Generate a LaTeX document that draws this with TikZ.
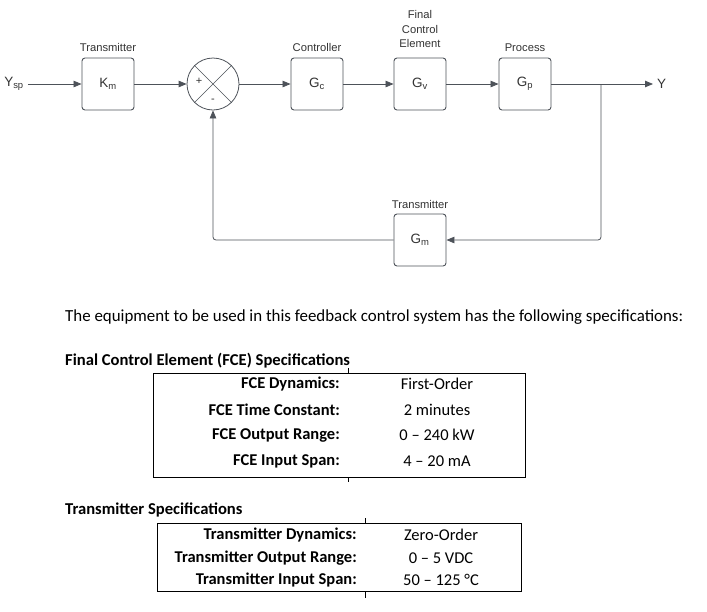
\documentclass[tikz,border=0pt]{standalone}
\usepackage{fontspec}
\setmainfont{Carlito}
\newfontfamily\arial{Liberation Sans}
\usetikzlibrary{arrows.meta}
\definecolor{ln}{HTML}{4D5259}
\definecolor{tx}{HTML}{333333}
\begin{document}
\begin{tikzpicture}[x=1pt,y=-1pt,
  blk/.style={draw=ln, line width=0.9pt, rounded corners=3pt, minimum width=52pt, minimum height=52pt, inner sep=0pt, font=\arial\fontsize{13.5}{15}\selectfont, text=tx},
  lbl/.style={font=\arial\fontsize{11.2}{14.3}\selectfont, text=tx, align=center, inner sep=0pt},
  arr/.style={draw=ln, line width=0.8pt, -{Triangle[length=8pt,width=6.5pt]}},
  body/.style={font=\fontsize{16.9}{19}\selectfont, inner sep=0pt},
  head/.style={font=\bfseries\fontsize{16.6}{19}\selectfont, inner sep=0pt, anchor=west},
  key/.style={font=\bfseries\fontsize{16.5}{19}\selectfont, inner sep=0pt, anchor=east},
  val/.style={font=\fontsize{16.5}{19}\selectfont, inner sep=0pt},
  frame/.style={draw=black, line width=0.8pt}
]
\useasboundingbox (0,0) rectangle (707,611);

% ---- block diagram ----
\node[lbl, font=\arial\fontsize{13.5}{15}\selectfont] (ysp) at (14,84) {Y\textsubscript{sp}};
\node[blk] (km) at (108,84) {K\textsubscript{m}};
\node[lbl] (lkm) at (108,47) {Transmitter};
\node[draw=ln, line width=0.8pt, circle, minimum size=52pt, inner sep=0pt] (sum) at (213,84) {};
\draw[ln, line width=0.6pt] (sum.north west) -- (sum.south east) (sum.north east) -- (sum.south west);
\node[lbl, font=\arial\fontsize{11}{12}\selectfont] (plus) at (199,81) {+};
\node[lbl, font=\arial\fontsize{11}{12}\selectfont] (minus) at (213,101) {-};
\node[blk] (gc) at (317,84) {G\textsubscript{c}};
\node[lbl] (lgc) at (317,47) {Controller};
\node[blk] (gv) at (420,84) {G\textsubscript{v}};
\node[lbl] (lgv) at (420,29) {Final\\Control\\Element};
\node[blk] (gp) at (525,84) {G\textsubscript{p}};
\node[lbl] (lgp) at (525,48) {Process};
\coordinate (br) at (601,84);
\node[lbl, font=\arial\fontsize{13.5}{15}\selectfont, anchor=west] (y) at (657,84) {Y};
\node[blk] (gm) at (420,240) {G\textsubscript{m}};
\node[lbl] (lgm) at (420,204) {Transmitter};

\draw[arr] (ysp.east) ++(4,0) coordinate (ys) (ys) -- (km.west);
\draw[arr] (km.east) -- (sum.west);
\draw[arr] (sum.east) -- (gc.west);
\draw[arr] (gc.east) -- (gv.west);
\draw[arr] (gv.east) -- (gp.west);
\draw[arr] (gp.east) -- ([xshift=-4pt]y.west);
\draw[arr, rounded corners=3pt] (br) |- (gm.east);
\draw[arr, rounded corners=3pt] (gm.west) -| (sum.south);

% ---- text ----
\node[body, anchor=west] (intro) at (65,317) {The equipment to be used in this feedback control system has the following specifications:};

\node[head] (h1) at (65,361) {Final Control Element (FCE) Specifications};
\draw[frame] (153,373) rectangle (525,477);
\draw[frame] (348,368) -- (348,373) (348,477) -- (348,482);
\node[key] (k11) at (340,384) {FCE Dynamics:};
\node[key] (k12) at (340,410) {FCE Time Constant:};
\node[key] (k13) at (340,435) {FCE Output Range:};
\node[key] (k14) at (340,461) {FCE Input Span:};
\node[val] (v11) at (437,384) {First-Order};
\node[val] (v12) at (437,410) {2 minutes};
\node[val] (v13) at (437,435) {0 – 240 kW};
\node[val] (v14) at (437,461) {4 – 20 mA};

\node[head] (h2) at (65,510) {Transmitter Specifications};
\draw[frame] (157,523) rectangle (521,591);
\draw[frame] (365,518) -- (365,523) (365,591) -- (365,598);
\node[key] (k21) at (357,535) {Transmitter Dynamics:};
\node[key] (k22) at (357,558) {Transmitter Output Range:};
\node[key] (k23) at (357,580) {Transmitter Input Span:};
\node[val] (v21) at (441,535) {Zero-Order};
\node[val] (v22) at (441,558) {0 – 5 VDC};
\node[val] (v23) at (441,580) {50 – 125 °C};
\end{tikzpicture}
\end{document}
